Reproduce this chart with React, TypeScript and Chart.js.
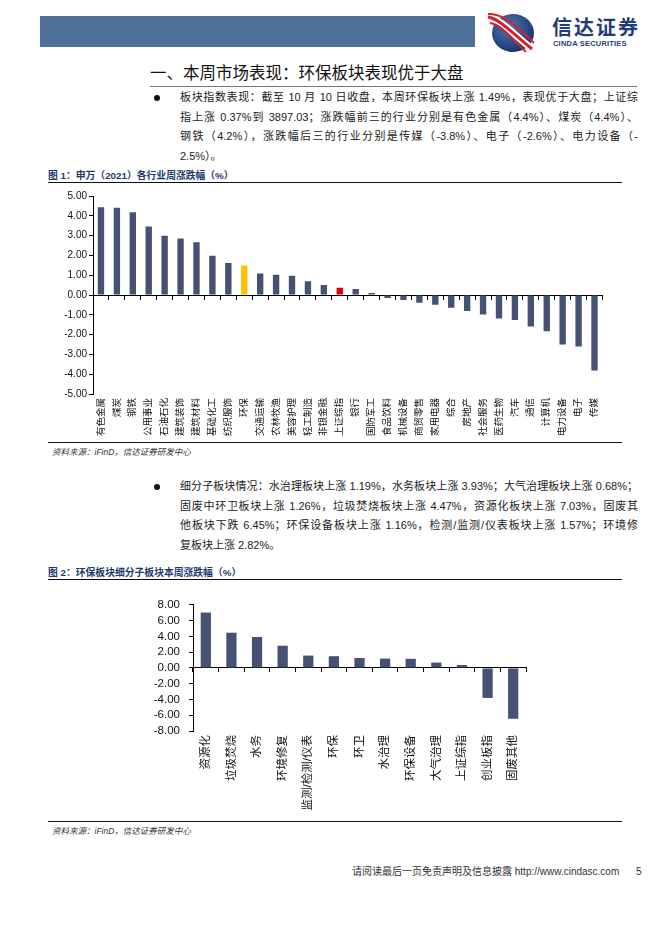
import React, { useEffect, useRef } from 'react';
import { Chart, registerables } from 'chart.js';

Chart.register(...registerables);

// ---------- Data ----------
const industryLabels = [
  '有色金属', '煤炭', '钢铁', '公用事业', '石油石化', '建筑装饰', '建筑材料', '基础化工',
  '纺织服饰', '环保', '交通运输', '农林牧渔', '美容护理', '轻工制造', '非银金融', '上证综指',
  '银行', '国防军工', '食品饮料', '机械设备', '商贸零售', '家用电器', '综合', '房地产',
  '社会服务', '医药生物', '汽车', '通信', '计算机', '电力设备', '电子', '传媒',
];
const industryValues = [
  4.43, 4.41, 4.18, 3.46, 2.99, 2.85, 2.67, 1.98,
  1.61, 1.49, 1.09, 1.02, 0.97, 0.70, 0.50, 0.37,
  0.30, 0.10, -0.15, -0.25, -0.39, -0.49, -0.64, -0.81,
  -0.99, -1.19, -1.26, -1.59, -1.83, -2.50, -2.60, -3.81,
];
const highlightIndustry = '环保';
const benchmarkIndex = '上证综指';

const subSectorLabels = [
  '资源化', '垃圾焚烧', '水务', '环境修复', '监测/检测/仪表', '环保', '环卫',
  '水治理', '环保设备', '大气治理', '上证综指', '创业板指', '固废其他',
];
const subSectorValues = [7.03, 4.47, 3.93, 2.82, 1.57, 1.49, 1.26, 1.19, 1.16, 0.68, 0.37, -3.80, -6.45];

const chart1Range = { min: -5, max: 5, step: 1 };
const chart2Range = { min: -8, max: 8, step: 2 };

// ---------- Styles ----------
const BAR = '#465274';
const GOLD = '#FFC000';
const RED = '#E00000';
const FONT = "'Liberation Sans', 'Noto Sans CJK SC', sans-serif";
const CJK = "'Liberation Sans', 'Noto Sans CJK SC', sans-serif";

type Spec = {
  labels: string[];
  values: number[];
  colors: string[];
  min: number;
  max: number;
  step: number;
  yWidth: number;
  xHeight: number;
  padding: { left: number; right: number; top: number; bottom: number };
  tickFont: number;
  labelFont: number;
  yPad: number;
  labelPad: number;
  barPct: number;
};

function makeChart(canvas: HTMLCanvasElement, s: Spec) {
  return new Chart(canvas, {
    type: 'bar',
    data: {
      labels: s.labels,
      datasets: [
        {
          data: s.values,
          backgroundColor: s.colors,
          borderWidth: 0,
          barPercentage: s.barPct,
          categoryPercentage: 1,
          xAxisID: 'x',
          yAxisID: 'y',
        },
      ],
    },
    options: {
      animation: false,
      responsive: false,
      maintainAspectRatio: false,
      devicePixelRatio: 1,
      layout: { padding: s.padding },
      plugins: { legend: { display: false }, tooltip: { enabled: false } },
      scales: {
        x: {
          type: 'category',
          position: { y: 0 } as any,
          offset: true,
          grid: {
            display: true,
            drawOnChartArea: false,
            drawTicks: true,
            tickLength: 4,
            offset: true,
            color: '#000',
          },
          border: { display: true, color: '#000', width: 1 },
          ticks: { display: false },
        },
        x2: {
          type: 'category',
          position: 'bottom',
          offset: true,
          grid: { display: false, drawTicks: false },
          border: { display: false },
          ticks: {
            autoSkip: false,
            maxRotation: 90,
            minRotation: 90,
            padding: s.labelPad,
            color: '#111',
            font: { family: CJK, size: s.labelFont },
          },
          afterFit: (scale: any) => {
            scale.height = s.xHeight;
          },
        },
        y: {
          min: s.min,
          max: s.max,
          ticks: {
            stepSize: s.step,
            autoSkip: false,
            padding: s.yPad,
            color: '#111',
            font: { family: FONT, size: s.tickFont },
            callback: (v: any) => Number(v).toFixed(2),
          },
          grid: {
            display: true,
            drawOnChartArea: false,
            drawTicks: true,
            tickLength: 4,
            color: '#000',
          },
          border: { display: true, color: '#000', width: 1 },
          afterFit: (scale: any) => {
            scale.width = s.yWidth;
          },
        },
      } as any,
    },
  });
}

const abs = (l: number, t: number, extra: React.CSSProperties = {}): React.CSSProperties => ({
  position: 'absolute',
  left: l,
  top: t,
  ...extra,
});

const para1 = [
  '板块指数表现：截至 10 月 10 日收盘，本周环保板块上涨 1.49%，表现优于大盘；上证综',
  '指上涨 0.37%到 3897.03；涨跌幅前三的行业分别是有色金属（4.4%）、煤炭（4.4%）、',
  '钢铁（4.2%），涨跌幅后三的行业分别是传媒（-3.8%）、电子（-2.6%）、电力设备（-',
  '2.5%）。',
];
const para2 = [
  '细分子板块情况：水治理板块上涨 1.19%，水务板块上涨 3.93%；大气治理板块上涨 0.68%；',
  '固废中环卫板块上涨 1.26%，垃圾焚烧板块上涨 4.47%，资源化板块上涨 7.03%，固废其',
  '他板块下跌 6.45%；环保设备板块上涨 1.16%，检测/监测/仪表板块上涨 1.57%；环境修',
  '复板块上涨 2.82%。',
];

function Paragraph({ lines, top }: { lines: string[]; top: number }) {
  return (
    <div style={abs(180, top, { width: 458, fontFamily: CJK, fontSize: 11, color: '#222', lineHeight: '19.6px' })}>
      {lines.map((ln, i) => (
        <div
          key={i}
          style={{
            whiteSpace: 'nowrap',
            textAlign: i === lines.length - 1 ? 'left' : 'justify',
            textAlignLast: i === lines.length - 1 ? 'left' : 'justify',
          } as any}
        >
          {ln}
        </div>
      ))}
    </div>
  );
}

export default function App() {
  const c1 = useRef<HTMLCanvasElement>(null);
  const c2 = useRef<HTMLCanvasElement>(null);

  useEffect(() => {
    const colors1 = industryLabels.map((l) => (l === highlightIndustry ? GOLD : l === benchmarkIndex ? RED : BAR));
    const ch1 = makeChart(c1.current!, {
      labels: industryLabels,
      values: industryValues,
      colors: colors1,
      min: chart1Range.min,
      max: chart1Range.max,
      step: chart1Range.step,
      yWidth: 53,
      xHeight: 46,
      padding: { left: 0, right: 6, top: 8, bottom: 0 },
      tickFont: 10,
      labelFont: 9.5,
      yPad: 2,
      labelPad: 4,
      barPct: 0.4,
    });
    const ch2 = makeChart(c2.current!, {
      labels: subSectorLabels,
      values: subSectorValues,
      colors: subSectorLabels.map(() => BAR),
      min: chart2Range.min,
      max: chart2Range.max,
      step: chart2Range.step,
      yWidth: 53,
      xHeight: 85,
      padding: { left: 0, right: 8, top: 8, bottom: 0 },
      tickFont: 11.5,
      labelFont: 11.5,
      yPad: 9,
      labelPad: 4,
      barPct: 0.4,
    });
    return () => {
      ch1.destroy();
      ch2.destroy();
    };
  }, []);

  return (
    <div style={abs(0, 0, { width: 662, height: 936, overflow: 'hidden', background: '#fff', fontFamily: CJK })}>
      {/* header */}
      <div style={abs(40, 16, { width: 435, height: 31, background: '#4E6F97' })} />
      <svg style={abs(486, 13)} width={50} height={40} viewBox="0 0 50 40">
        <defs>
          <radialGradient id="lg" cx="40%" cy="35%" r="70%">
            <stop offset="0%" stopColor="#4f79b8" />
            <stop offset="100%" stopColor="#17306a" />
          </radialGradient>
        </defs>
        <ellipse cx={27} cy={20} rx={21} ry={19} fill="url(#lg)" />
        <path d="M2 4 C14 6, 26 20, 46 36" stroke="#ffffff" strokeWidth={7} fill="none" />
        <path d="M2 4 C14 6, 26 20, 46 36" stroke="#d4202a" strokeWidth={3} fill="none" />
        <path d="M4 10 C16 12, 24 24, 40 39" stroke="#d4202a" strokeWidth={2} fill="none" />
        <path d="M2 1 C16 0, 30 12, 48 30" stroke="#d4202a" strokeWidth={2} fill="none" />
      </svg>
      <div style={abs(552, 16, { fontSize: 20, fontWeight: 700, color: '#1F3D78', letterSpacing: 2, lineHeight: '24px' })}>
        信达证券
      </div>
      <div style={abs(553, 39, { fontSize: 7.5, fontWeight: 700, color: '#1F3D78', fontFamily: FONT, lineHeight: '9px', letterSpacing: 0.2 })}>
        CINDA SECURITIES
      </div>

      {/* title */}
      <div style={abs(150, 62, { fontSize: 16.5, color: '#111', lineHeight: '22px' })}>一、本周市场表现：环保板块表现优于大盘</div>
      <div style={abs(150, 86, { width: 487, height: 1, background: '#777' })} />

      {/* paragraph 1 */}
      <div style={abs(154, 95, { width: 6, height: 6, borderRadius: 3, background: '#111' })} />
      <Paragraph lines={para1} top={88} />

      {/* figure 1 */}
      <div style={abs(48, 169, { fontSize: 9.8, fontWeight: 700, color: '#1F3A6E', lineHeight: '14px' })}>
        图 1：申万（2021）各行业周涨跌幅（%）
      </div>
      <div style={abs(48, 182, { width: 574, height: 1.3, background: '#111' })} />
      <canvas ref={c1} width={570} height={252} style={abs(40, 188, { width: 570, height: 252 })} />
      <div style={abs(48, 442, { width: 574, height: 1.3, background: '#111' })} />
      <div style={abs(52, 446, { fontSize: 8.5, fontStyle: 'italic', color: '#333', lineHeight: '12px' })}>
        资料来源：iFinD，信达证券研发中心
      </div>

      {/* paragraph 2 */}
      <div style={abs(154, 484, { width: 6, height: 6, borderRadius: 3, background: '#111' })} />
      <Paragraph lines={para2} top={477} />

      {/* figure 2 */}
      <div style={abs(48, 566, { fontSize: 9.8, fontWeight: 700, color: '#1F3A6E', lineHeight: '14px' })}>
        图 2：环保板块细分子板块本周涨跌幅（%）
      </div>
      <div style={abs(48, 579, { width: 574, height: 1.3, background: '#111' })} />
      <canvas ref={c2} width={394} height={227} style={abs(140, 589, { width: 394, height: 227 })} />
      <div style={abs(48, 821, { width: 574, height: 1.3, background: '#111' })} />
      <div style={abs(52, 825, { fontSize: 8.5, fontStyle: 'italic', color: '#333', lineHeight: '12px' })}>
        资料来源：iFinD，信达证券研发中心
      </div>

      {/* footer */}
      <div style={abs(352, 865, { fontSize: 10, color: '#333', lineHeight: '14px', whiteSpace: 'nowrap' })}>
        请阅读最后一页免责声明及信息披露 http://www.cindasc.com
      </div>
      <div style={abs(636, 865, { fontSize: 10, color: '#333', lineHeight: '14px' })}>5</div>
    </div>
  );
}
